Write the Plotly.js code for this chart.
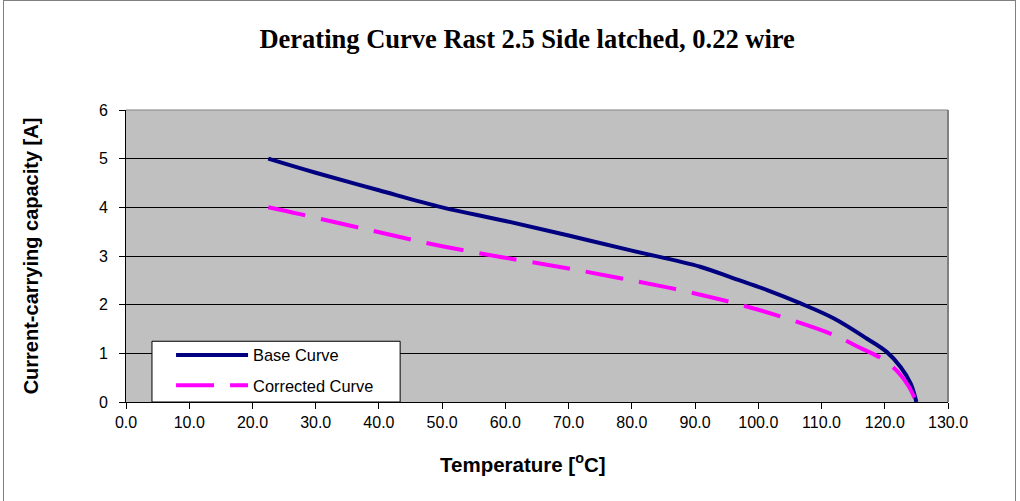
<!DOCTYPE html>
<html>
<head>
<meta charset="utf-8">
<script src="https://cdn.plot.ly/plotly-3.0.1.min.js"></script>
<style>
  html, body { margin: 0; padding: 0; background: #ffffff; overflow: hidden; }
  #wrap { position: relative; width: 1020px; height: 501px; }
  #chart { position: absolute; left: 0; top: 0; width: 1020px; height: 501px; }
  #frame { position: absolute; left: 3px; top: 0px; width: 1013px; height: 520px;
           border: 1px solid #808080; pointer-events: none; box-sizing: border-box; }
</style>
</head>
<body>
<div id="wrap">
  <div id="chart"></div>
  <div id="frame"></div>
</div>
<script>
// Temperature (°C) and current-carrying capacity (A)
const baseTemp = [22.5, 30, 40, 50, 60, 70, 80, 90.8, 96.1, 101.4, 106.6, 111.9, 117.2, 120.3, 122.5, 124.1, 125];
const baseCurrent = [5.0, 4.71, 4.35, 4.0, 3.72, 3.42, 3.11, 2.78, 2.54, 2.30, 2.03, 1.72, 1.30, 1.03, 0.72, 0.38, 0.0];

const corrTemp = [22.5, 27.5, 42.3, 50, 59.7, 68.4, 85.8, 94.8, 103.2, 111.7, 116, 119.7, 122, 123.8, 125];
const corrCurrent = [4.0, 3.86, 3.42, 3.2, 2.97, 2.78, 2.35, 2.08, 1.77, 1.39, 1.12, 0.88, 0.63, 0.32, 0.0];

const seriesNames = ['Base Curve', 'Corrected Curve'];
const chartTitle = 'Derating Curve Rast 2.5 Side latched, 0.22 wire';
const xTitle = 'Temperature [<sup>o</sup>C]';
const yTitle = 'Current-carrying capacity [A]';

const traces = [
  {
    x: baseTemp, y: baseCurrent, name: seriesNames[0], type: 'scatter', mode: 'lines',
    legendgroup: 'a',
    line: { color: '#000080', width: 4, shape: 'spline', smoothing: 1.0 }
  },
  {
    x: corrTemp, y: corrCurrent, name: seriesNames[1], type: 'scatter', mode: 'lines',
    legendgroup: 'b',
    line: { color: '#ff00ff', width: 4, dash: '38px,16px', shape: 'spline', smoothing: 0.9 }
  }
];

const sansFamily = 'Liberation Sans, Arial, sans-serif';
const axisFont = { family: sansFamily, size: 16, color: '#000000' };

const layout = {
  width: 1020, height: 501,
  margin: { l: 126, r: 72, t: 110, b: 99, pad: 0 },
  paper_bgcolor: 'rgba(0,0,0,0)',
  plot_bgcolor: '#c0c0c0',
  showlegend: true,
  title: {
    text: '<b>' + chartTitle + '</b>',
    font: { family: 'Liberation Serif, Times New Roman, serif', size: 26.5, color: '#000000' },
    x: 0.488, xref: 'paper', xanchor: 'center',
    y: 0.922, yref: 'container', yanchor: 'middle'
  },
  xaxis: {
    range: [0, 130], dtick: 10, tick0: 0, tickformat: '.1f',
    showgrid: false, zeroline: false,
    showline: true, linecolor: '#000000', linewidth: 1,
    ticks: 'outside', ticklen: 6, tickcolor: '#000000',
    tickfont: axisFont,
    fixedrange: true
  },
  yaxis: {
    range: [0, 6], dtick: 1, tick0: 0,
    showgrid: true, gridcolor: '#000000', gridwidth: 1,
    zeroline: false,
    showline: true, linecolor: '#000000', linewidth: 1,
    ticks: 'outside', ticklen: 6, tickcolor: '#000000',
    ticklabelstandoff: 8,
    tickfont: axisFont,
    title: { text: '<b>' + yTitle + '</b>', font: { family: sansFamily, size: 20, color: '#000000' }, standoff: 54 },
    fixedrange: true
  },
  legend: {
    x: 0.0548, y: 0.22, xanchor: 'left', yanchor: 'top',
    bgcolor: 'rgba(0,0,0,0)', borderwidth: 0,
    font: { family: sansFamily, size: 16.4, color: '#000000' },
    itemwidth: 72, tracegroupgap: 6, traceorder: 'grouped'
  },
  annotations: [
    { text: '<b>' + xTitle + '</b>', xref: 'paper', yref: 'paper', x: 0.483, y: -0.21,
      xanchor: 'center', yanchor: 'middle', showarrow: false,
      font: { family: sansFamily, size: 20.5, color: '#000000' } }
  ],
  shapes: [
    { type: 'line', xref: 'paper', yref: 'paper', x0: 1, x1: 1, y0: 0, y1: 1,
      line: { color: '#808080', width: 2 } },
    { type: 'line', xref: 'paper', yref: 'paper', x0: 0, x1: 1, y0: 1, y1: 1,
      line: { color: '#808080', width: 1 } },
    { type: 'rect', xref: 'paper', yref: 'paper', x0: 0.0316, x1: 0.3335, y0: 0, y1: 0.208,
      fillcolor: '#ffffff', line: { color: '#000000', width: 1 }, layer: 'above' }
  ]
};

Plotly.newPlot('chart', traces, layout, { displayModeBar: false, staticPlot: true });
</script>
</body>
</html>
